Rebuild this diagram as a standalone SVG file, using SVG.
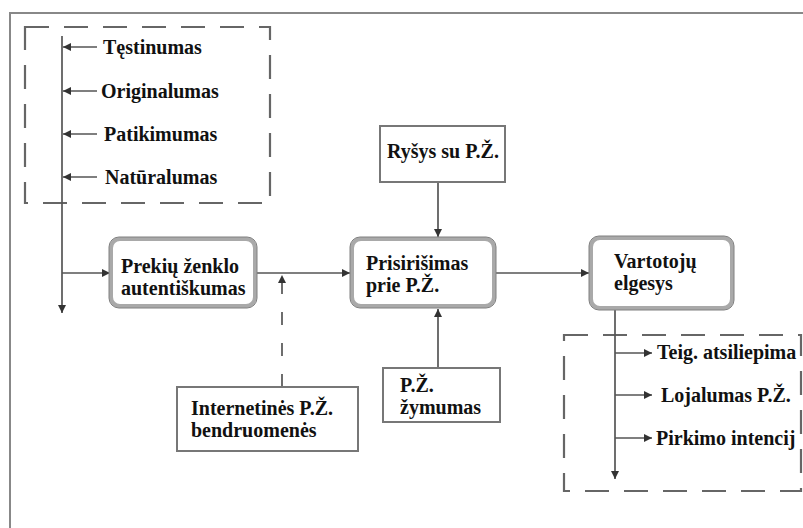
<svg xmlns="http://www.w3.org/2000/svg" width="803" height="528" viewBox="0 0 803 528">
<style>
.t{font-family:"Liberation Serif","Times New Roman",serif;font-weight:bold;font-size:20px;fill:#111}
.ln{stroke:#555;stroke-width:1.7;fill:none}
.dash{stroke:#666;stroke-width:2.2;fill:none;stroke-dasharray:24 15}
.rbox{fill:#fff;stroke:#a9a9a9;stroke-width:4}
.rout{fill:none;stroke:#808080;stroke-width:1}
.box{fill:#fff;stroke:#777;stroke-width:2}
</style>
<defs>
<marker id="ah" markerUnits="userSpaceOnUse" markerWidth="9" markerHeight="8" refX="8" refY="4" orient="auto">
<path d="M0,0 L8,4 L0,8 z" fill="#333"/>
</marker>
</defs>
<rect width="803" height="528" fill="#fff"/>
<path d="M803 13 H10 V528" fill="none" stroke="#888" stroke-width="2"/>
<g id="groupLeft">
<rect class="dash" x="25" y="27" width="245" height="176"/>
</g>
<g id="groupRight">
<rect class="dash" x="564" y="335" width="237" height="156"/>
</g>
<g id="connectors">
<path class="ln" d="M62 36 V313" marker-end="url(#ah)"/>
<path class="ln" d="M97 47 H63" marker-end="url(#ah)"/>
<path class="ln" d="M97 91 H63" marker-end="url(#ah)"/>
<path class="ln" d="M97 134 H63" marker-end="url(#ah)"/>
<path class="ln" d="M97 177 H63" marker-end="url(#ah)"/>
<path class="ln" d="M62 273 H110" marker-end="url(#ah)"/>
<path class="ln" d="M256 273 H350" marker-end="url(#ah)"/>
<path class="ln" d="M282 387 V275" stroke-dasharray="13 18" marker-end="url(#ah)"/>
<path class="ln" d="M438 182 V237" marker-end="url(#ah)"/>
<path class="ln" d="M438 368 V309" marker-end="url(#ah)"/>
<path class="ln" d="M495 273 H589" marker-end="url(#ah)"/>
<path class="ln" d="M615 309 V479" marker-end="url(#ah)"/>
<path class="ln" d="M615 353 H652" marker-end="url(#ah)"/>
<path class="ln" d="M615 395 H652" marker-end="url(#ah)"/>
<path class="ln" d="M615 438 H652" marker-end="url(#ah)"/>
</g>
<g id="testinumas"><text class="t" x="103" y="54">Tęstinumas</text></g>
<g id="originalumas"><text class="t" x="101" y="98">Originalumas</text></g>
<g id="patikimumas"><text class="t" x="104" y="141">Patikimumas</text></g>
<g id="naturalumas"><text class="t" x="105" y="184">Natūralumas</text></g>
<g id="autentiskumas">
<rect class="rbox" x="111" y="239" width="144" height="67" rx="9"/>
<rect class="rout" x="109" y="237" width="148" height="71" rx="10"/>
<text class="t" x="121" y="273">Prekių ženklo</text>
<text class="t" x="121" y="295">autentiškumas</text>
</g>
<g id="prisirisimas">
<rect class="rbox" x="352" y="239" width="142" height="67" rx="9"/>
<rect class="rout" x="350" y="237" width="146" height="71" rx="10"/>
<text class="t" x="366" y="270">Prisirišimas</text>
<text class="t" x="366" y="292">prie P.Ž.</text>
</g>
<g id="vartotoju">
<rect class="rbox" x="591" y="238" width="141" height="70" rx="9"/>
<rect class="rout" x="589" y="236" width="145" height="74" rx="10"/>
<text class="t" x="614" y="268">Vartotojų</text>
<text class="t" x="614" y="290">elgesys</text>
</g>
<g id="rysys">
<rect class="box" x="380" y="126" width="125" height="56"/>
<text class="t" x="387" y="158">Ryšys su P.Ž.</text>
</g>
<g id="zymumas">
<rect class="box" x="383" y="368" width="117" height="54"/>
<text class="t" x="400" y="392">P.Ž.</text>
<text class="t" x="400" y="414">žymumas</text>
</g>
<g id="internetines">
<rect class="box" x="177" y="387" width="181" height="64"/>
<text class="t" x="191" y="415">Internetinės P.Ž.</text>
<text class="t" x="191" y="437">bendruomenės</text>
</g>
<g id="teig"><text class="t" x="657" y="359">Teig. atsiliepima</text></g>
<g id="lojalumas"><text class="t" x="661" y="402">Lojalumas P.Ž.</text></g>
<g id="pirkimo"><text class="t" x="656" y="445">Pirkimo intencij</text></g>
</svg>
